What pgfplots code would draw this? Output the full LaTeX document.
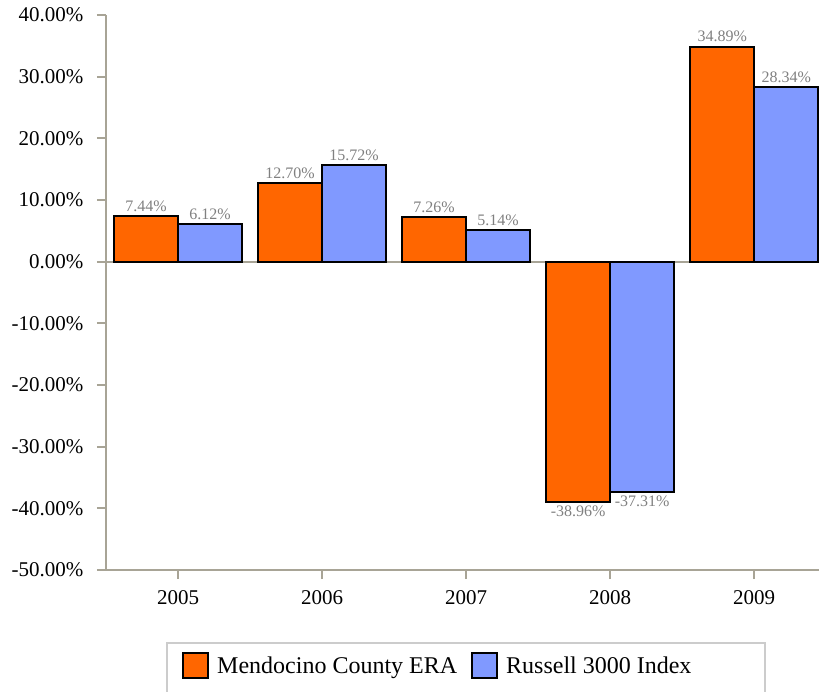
\documentclass[border=0pt]{standalone}
\usepackage{fontspec}
\setmainfont{Liberation Serif}
\usepackage{pgfplots}
\usepackage{pgfplotstable}
\pgfplotsset{compat=1.18}
\definecolor{barorange}{HTML}{FF6600}
\definecolor{barblue}{HTML}{8099FF}
\definecolor{axisgray}{HTML}{A8A496}
\definecolor{labelgray}{HTML}{808080}
\definecolor{legendgray}{HTML}{CCCCCC}

\pgfplotstableread{
x y
0 7.44
1 12.70
2 7.26
3 -38.96
4 34.89
}\mendo
\pgfplotstableread{
x y
0 6.12
1 15.72
2 5.14
3 -37.31
4 28.34
}\russell

\begin{document}
\begin{tikzpicture}
\begin{axis}[
  at={(106pt,-570pt)}, anchor=south west,
  scale only axis, width=713pt, height=555pt,
  xmin=-0.5, xmax=4.45, ymin=-50, ymax=40,
  axis x line=bottom, axis y line=left,
  x axis line style={-}, y axis line style={-},
  axis line style={axisgray, line width=1.7pt},
  tick align=outside, major tick length=9pt,
  tick style={axisgray, line width=1.7pt},
  xtick={0,1,2,3,4}, xticklabels={2005,2006,2007,2008,2009},
  ytick={-50,-40,-30,-20,-10,0,10,20,30,40},
  yticklabels={-50.00\%,-40.00\%,-30.00\%,-20.00\%,-10.00\%,0.00\%,10.00\%,20.00\%,30.00\%,40.00\%},
  ticklabel style={font=\fontsize{21}{25}\selectfont, black},
  xticklabel style={yshift=-8pt},
  yticklabel style={xshift=-10pt},
  extra y ticks={0}, extra y tick labels={},
  extra y tick style={grid=major, major grid style={axisgray, line width=1.7pt}, major tick length=0pt},
  ybar=0pt, bar width=0.444,
  nodes near coords={\pgfmathprintnumber[fixed,fixed zerofill,precision=2,assume math mode=true]{\pgfplotspointmeta}\%},
  nodes near coords align={vertical},
  nodes near coords style={font=\fontsize{16}{19}\selectfont, text=labelgray},
  legend columns=2,
  legend style={at={(0.1066,-0.1721)}, anchor=west, draw=none, fill=none,
    font=\fontsize{24}{28}\selectfont, inner sep=0pt,
    nodes={inner xsep=0pt},
    /tikz/every odd column/.append style={column sep=8pt},
    /tikz/every even column/.append style={column sep=14pt}},
]
\addplot[fill=barorange, draw=black, line width=2pt,
  legend image code/.code={\draw[fill=barorange, draw=black, line width=2pt] (0pt,-12.5pt) rectangle (25pt,12.5pt);}]
  table[x=x, y=y]{\mendo};
\addlegendentry{Mendocino County ERA}
\addplot[fill=barblue, draw=black, line width=2pt,
  legend image code/.code={\draw[fill=barblue, draw=black, line width=2pt] (0pt,-12.5pt) rectangle (25pt,12.5pt);}]
  table[x=x, y=y]{\russell};
\addlegendentry{Russell 3000 Index}
\end{axis}
\draw[legendgray, line width=1.7pt] (167pt,-700pt) -- (167pt,-643pt) -- (765pt,-643pt) -- (765pt,-700pt);
\pgfresetboundingbox
\path (0pt,0pt) rectangle (819pt,-692pt);
\end{tikzpicture}
\end{document}
